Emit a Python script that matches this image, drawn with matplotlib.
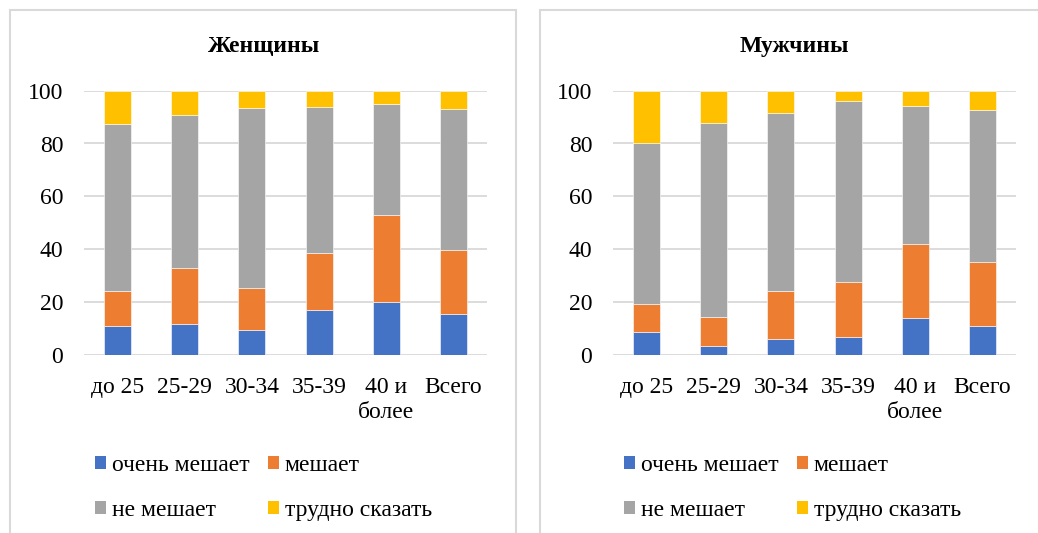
"""Stacked bars: how much the factor interferes, by age group, women vs men."""

import matplotlib.pyplot as plt
from matplotlib.patches import Patch, Rectangle

plt.rcParams["font.family"] = ["Liberation Serif", "DejaVu Serif"]

categories = ["до 25", "25-29", "30-34", "35-39", "40 и\nболее", "Всего"]
series_names = ["очень мешает", "мешает", "не мешает", "трудно сказать"]
colors = ["#4472c4", "#ed7d31", "#a5a5a5", "#ffc000"]

# percentages per category
women_very = [10.9, 11.7, 9.2, 16.8, 20.1, 15.5]
women_some = [13.3, 21.1, 16.2, 21.6, 32.7, 24.0]
women_not = [63.0, 57.9, 68.0, 55.3, 42.3, 53.7]
women_unsure = [12.8, 9.3, 6.6, 6.3, 4.9, 6.8]

men_very = [8.6, 3.4, 5.8, 6.8, 13.8, 11.0]
men_some = [10.5, 11.0, 18.2, 20.7, 28.2, 24.0]
men_not = [61.0, 73.2, 67.4, 68.7, 52.3, 57.8]
men_unsure = [19.9, 12.4, 8.6, 3.8, 5.7, 7.2]

W, H = 1038, 533
FS = 17


def draw_panel(ax, series):
    x = range(len(categories))
    bottom = [0.0] * len(categories)
    for vals, color in zip(series, colors):
        ax.bar(x, vals, width=0.4, bottom=bottom, color=color,
               edgecolor="white", linewidth=0.4, zorder=3)
        bottom = [b + v for b, v in zip(bottom, vals)]
    ax.set_xlim(-0.5, len(categories) - 0.5)
    ax.set_ylim(0, 100)
    ax.set_yticks(range(0, 101, 20))
    ax.set_xticks(list(x))
    ax.set_xticklabels(categories, linespacing=1.25)
    ax.grid(axis="y", color="#d9d9d9", linewidth=1.3, zorder=0)
    for s in ax.spines.values():
        s.set_visible(False)
    ax.tick_params(length=0, labelsize=FS, colors="#000000")
    ax.tick_params(axis="y", pad=15)
    ax.tick_params(axis="x", pad=16)


fig = plt.figure(figsize=(W / 100, H / 100), dpi=100)

# panel frames
for left, right in [(10, 516), (540, 1050)]:
    fig.patches.append(Rectangle((left / W, -0.05), (right - left) / W, 1.05 - 10 / H,
                                 transform=fig.transFigure, fill=False,
                                 edgecolor="#d9d9d9", linewidth=1.5))

ax1 = fig.add_axes([84 / W, 1 - 354.7 / H, 403 / W, 264 / H])
ax2 = fig.add_axes([613 / W, 1 - 354.7 / H, 403 / W, 264 / H])

draw_panel(ax1, [women_very, women_some, women_not, women_unsure])
draw_panel(ax2, [men_very, men_some, men_not, men_unsure])

fig.text(264 / W, 1 - 52 / H, "Женщины", fontsize=FS, fontweight="bold",
         ha="center", va="baseline")
fig.text(794 / W, 1 - 52 / H, "Мужчины", fontsize=FS, fontweight="bold",
         ha="center", va="baseline")

handles = [Patch(facecolor=c, edgecolor="none") for c in colors]
order = [0, 2, 1, 3]  # legend fills by column
for x0 in [95, 624]:
    fig.legend([handles[i] for i in order], [series_names[i] for i in order],
               ncol=2, loc="upper left", bbox_to_anchor=(x0 / W, 1 - 455 / H),
               frameon=False, fontsize=FS, handlelength=0.45, handleheight=0.45,
               handletextpad=0.25, columnspacing=0.8, labelspacing=1.0,
               borderpad=0, borderaxespad=0)

fig.savefig("out.png", dpi=100)
